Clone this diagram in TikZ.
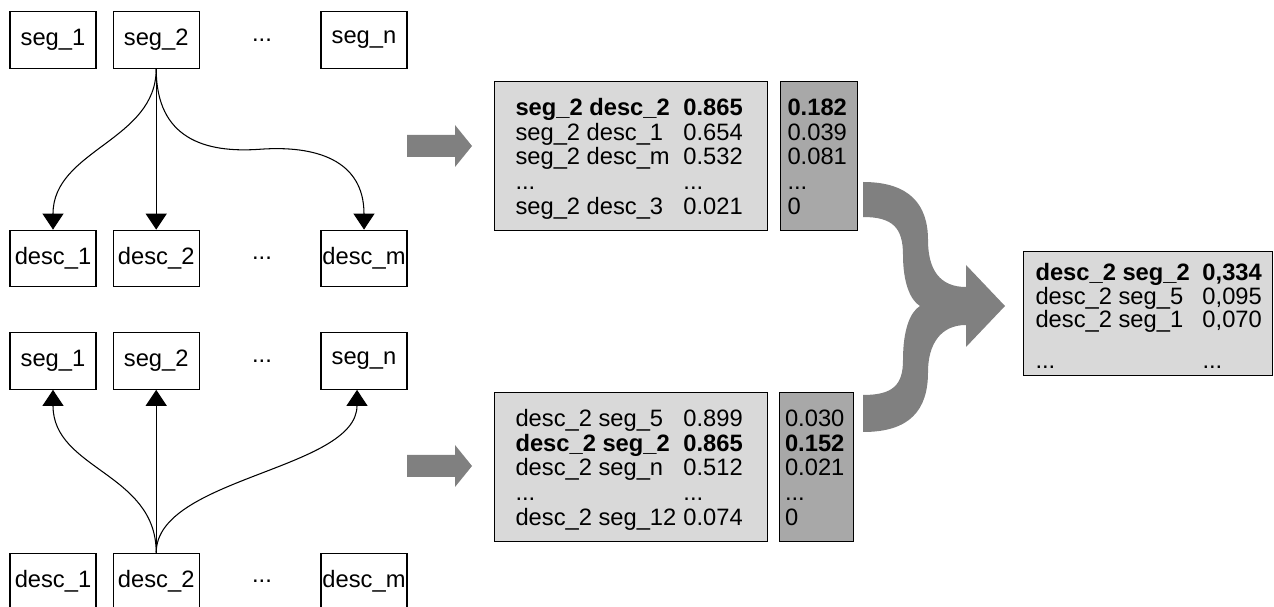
\documentclass[tikz,border=0pt]{standalone}
\usepackage{fontspec}
\setmainfont{Liberation Sans}
\usepackage{tikz}
\usetikzlibrary{arrows.meta, positioning, calc}
\usepackage{xcolor}
\definecolor{listcolor}{RGB}{217,217,217}
\definecolor{scorecolor}{RGB}{168,168,168}
\definecolor{arrowcolor}{RGB}{128,128,128}
\newcommand{\boxfont}{\fontsize{13.5}{14}\selectfont}

\begin{document}
\begin{tikzpicture}[
    x=0.02cm, y=-0.02cm,
    every node/.style={font=\boxfont},
    box/.style={rectangle, draw, line width=0.7pt, minimum width=1.72cm, minimum height=1.13cm, inner sep=0pt},
    link/.style={-{Triangle[width=0.42cm, length=0.32cm]}, line width=0.6pt},
    listbox/.style={rectangle, draw, line width=0.6pt, fill=listcolor, anchor=north west, minimum width=5.46cm, minimum height=2.98cm, inner sep=0pt},
    scorebox/.style={rectangle, draw, line width=0.6pt, fill=scorecolor, anchor=north west, minimum width=1.54cm, minimum height=2.98cm, inner sep=0pt},
    bigarrow/.style={fill=arrowcolor}
]
\useasboundingbox (0,0) rectangle (1274,607);
\clip (0,0) rectangle (1274,607);

% Top: seg_2 against all desc
\node[box] (seg1) at (53,40) {seg\_1};
\node[box, right=0.32cm of seg1] (seg2) {seg\_2};
\node (dots1) at (262,40) {...};
\node[box] (segn) at (364,40) {seg\_n};

\node[box] (desc1) at (53,258.5) {desc\_1};
\node[box, right=0.32cm of desc1] (desc2) {desc\_2};
\node (dots2) at (262,258.5) {...};
\node[box] (descm) at (364,258.5) {desc\_m};

\draw[link] (seg2.south) .. controls +(0,72) and +(0,-80) .. (desc1.north);
\draw[link] (seg2) -- (desc2);
\draw[link] (seg2.south) .. controls +(0,70) and +(-55,4) .. ($(seg2.south)!0.5!(descm.north)$) .. controls +(55,-4) and +(0,-70) .. (descm.north);

% Bottom: desc_2 against all seg
\node[box] (seg1b) at (53,361) {seg\_1};
\node[box, right=0.32cm of seg1b] (seg2b) {seg\_2};
\node (dots3) at (262,361) {...};
\node[box] (segnb) at (364,361) {seg\_n};

\node[box] (desc1b) at (53,581.5) {desc\_1};
\node[box, right=0.32cm of desc1b] (desc2b) {desc\_2};
\node (dots4) at (262,581.5) {...};
\node[box] (descmb) at (364,581.5) {desc\_m};

\draw[link] (desc2b.north) .. controls +(0,-80) and +(0,80) .. (seg1b.south);
\draw[link] (desc2b) -- (seg2b);
\draw[link] (desc2b.north) .. controls +(0,-75) and +(0,80) .. ([xshift=-0.14cm]segnb.south);

% Block arrows
\foreach \dy in {0,320}
  \fill[bigarrow] (407,135+\dy) -- (455,135+\dy) -- (455,125+\dy) -- (472,146+\dy) -- (455,167+\dy) -- (455,157+\dy) -- (407,157+\dy) -- cycle;

% Ranked lists
\node[listbox] (list1) at (494,81) {\begin{tabular}{@{}p{3.36cm}@{}p{1.26cm}@{}}
\noalign{\vskip 0.16cm}
\textbf{seg\_2 desc\_2} & \textbf{0.865}\\
seg\_2 desc\_1 & 0.654\\
seg\_2 desc\_m & 0.532\\
... & ...\\
seg\_2 desc\_3 & 0.021\\
\end{tabular}};
\node[scorebox] (score1) at (780,81) {\begin{tabular}{@{}p{1.26cm}@{}}
\noalign{\vskip 0.16cm}
\textbf{0.182}\\
0.039\\
0.081\\
...\\
0\\
\end{tabular}};

\node[listbox] (list2) at (494,392) {\begin{tabular}{@{}p{3.36cm}@{}p{1.26cm}@{}}
\noalign{\vskip 0.16cm}
desc\_2 seg\_5 & 0.899\\
\textbf{desc\_2 seg\_2} & \textbf{0.865}\\
desc\_2 seg\_n & 0.512\\
... & ...\\
desc\_2 seg\_12 & 0.074\\
\end{tabular}};
\node[scorebox, minimum width=1.48cm] (score2) at (779,392) {\begin{tabular}{@{}p{1.26cm}@{}}
\noalign{\vskip 0.16cm}
0.030\\
\textbf{0.152}\\
0.021\\
...\\
0\\
\end{tabular}};

% Merge arrow
\fill[bigarrow] (863,182) .. controls (910,182) and (928,205) .. (928,240)
  .. controls (928,270) and (940,287) .. (966,287)
  -- (966,265) -- (1005,306) -- (966,347) -- (966,325)
  .. controls (940,325) and (928,345) .. (928,372)
  .. controls (928,410) and (910,432) .. (863,432)
  -- (863,395)
  .. controls (893,395) and (903,385) .. (903,360)
  .. controls (903,330) and (910,312) .. (920,306)
  .. controls (910,300) and (903,282) .. (903,255)
  .. controls (903,228) and (893,217) .. (863,217) -- cycle;

% Result
\node[listbox, minimum width=4.98cm, minimum height=2.44cm] (result) at (1023,251) {\renewcommand{\arraystretch}{0.9}\begin{tabular}{@{}p{3.34cm}@{}p{1.16cm}@{}}
\noalign{\vskip 0.23cm}
\textbf{desc\_2 seg\_2} & \textbf{0,334}\\
desc\_2 seg\_5 & 0,095\\
desc\_2 seg\_1 & 0,070\\[0.37cm]
... & ...\\
\end{tabular}};

\end{tikzpicture}
\end{document}
